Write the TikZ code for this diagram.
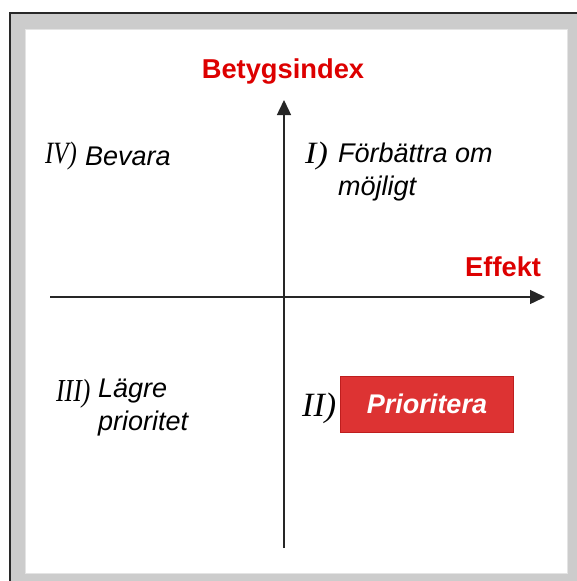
\documentclass[tikz,border=0pt]{standalone}
\usepackage{graphicx}
\usepackage{fontspec}
\setmainfont{Liberation Sans}
\newfontfamily\romfont{Liberation Serif}
\usetikzlibrary{arrows.meta}
\definecolor{axred}{RGB}{221,0,0}
\definecolor{boxred}{RGB}{221,51,51}
\definecolor{boxedge}{RGB}{190,30,30}
\definecolor{framegray}{RGB}{204,204,204}
\definecolor{frameline}{RGB}{40,40,40}
\definecolor{inneredge}{RGB}{228,228,228}
\newcommand{\qnum}[3]{\scalebox{#2}[1]{\fontsize{#1}{#1}\selectfont\romfont\itshape #3}}
\tikzset{
  lbl/.style={inner sep=0pt, anchor=base west, font=\fontsize{27}{33}\selectfont\itshape},
  num/.style={inner sep=0pt, anchor=base west},
  axlbl/.style={inner sep=0pt, text=axred, font=\fontsize{27.3}{32}\selectfont\bfseries},
  axis/.style={line width=1.4pt, draw=black!85, -{Triangle[length=15pt,width=14pt]}},
  prio/.style={fill=boxred, draw=boxedge, line width=0.8pt, minimum width=173pt, minimum height=56pt, inner sep=0pt, text=white, font=\fontsize{27}{33}\selectfont\bfseries\itshape}
}
\begin{document}
\begin{tikzpicture}[x=1pt,y=-1pt]
\useasboundingbox (0,0) rectangle (576,581);
% frame
\fill[framegray] (11,14) rectangle (590,600);
\draw[frameline, line width=2pt] (590,13) -- (10,13) -- (10,600);
\fill[white] (25,29) rectangle (567,573);
\draw[inneredge, line width=0.8pt] (25,29) rectangle (567,573);
% axes
\coordinate (vb) at (284,548);
\coordinate (vt) at (284,100);
\coordinate (hl) at (50,297);
\coordinate (hr) at (545,297);
\draw[axis] (vb) -- (vt);
\draw[axis] (hl) -- (hr);
% axis labels
\node[axlbl, anchor=base] (ylab) at (283,78) {Betygsindex};
\node[axlbl, anchor=base west] (xlab) at (465,276) {Effekt};
% quadrant IV
\node[num] (n4) at (45,163) {\qnum{31}{0.8}{IV)}};
\node[lbl] (q4) at (85,165) {Bevara};
% quadrant I
\node[num] (n1) at (305,163) {\qnum{31}{1.1}{I)}};
\node[lbl] (q1a) at (338,162) {Förbättra om};
\node[lbl] (q1b) at (338,195) {möjligt};
% quadrant III
\node[num] (n3) at (56,401) {\qnum{32}{0.8}{III)}};
\node[lbl] (q3a) at (98,397) {Lägre};
\node[lbl] (q3b) at (98,430) {prioritet};
% quadrant II
\node[num] (n2) at (302,416) {\qnum{34}{1.0}{II)}};
\node[prio] (q2) at (427,404) {Prioritera};
\end{tikzpicture}
\end{document}
